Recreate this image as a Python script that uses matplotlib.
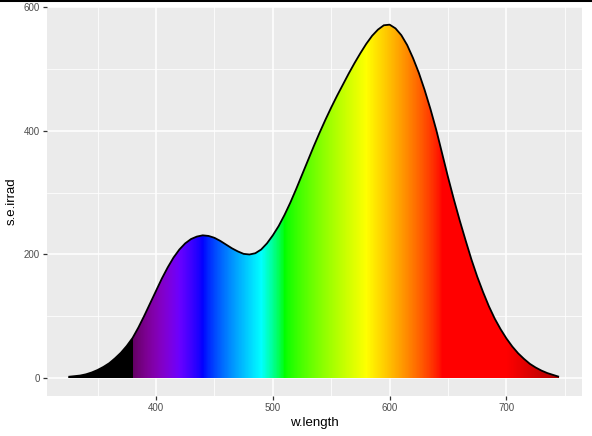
import numpy as np
import matplotlib
matplotlib.use("Agg")
import matplotlib.pyplot as plt
from matplotlib.lines import Line2D

# ---- data ----
w_length = [325, 330, 335, 340, 345, 350, 355, 360, 365, 370, 375, 380, 385, 390, 395,
            400, 405, 410, 415, 420, 425, 430, 435, 440, 445, 450, 455, 460, 465, 470,
            475, 480, 485, 490, 495, 500, 505, 510, 515, 520, 525, 530, 535, 540, 545,
            550, 555, 560, 565, 570, 575, 580, 585, 590, 595, 600, 605, 610, 615, 620,
            625, 630, 635, 640, 645, 650, 655, 660, 665, 670, 675, 680, 685, 690, 695,
            700, 705, 710, 715, 720, 725, 730, 735, 740, 745]
s_e_irrad = [2, 3, 4, 6, 9, 13, 18, 24, 32, 41, 52, 65, 82, 101, 121,
             141, 161, 179, 195, 208, 218, 225, 229, 231, 230, 227, 222, 216, 210, 205,
             201, 200, 202, 208, 218, 231, 246, 264, 284, 306, 329, 352, 375, 397, 418,
             438, 457, 475, 493, 510, 526, 541, 554, 564, 571, 572, 566, 555, 539, 518,
             494, 466, 435, 401, 363, 325, 289, 255, 223, 192, 164, 139, 116, 96, 79,
             64, 51, 40, 31, 23, 17, 12, 8, 5, 2]
x_ticks = [400, 500, 600, 700]
y_ticks = [0, 200, 400, 600]
x_minor = [350, 450, 550, 650, 750]
y_minor = [100, 300, 500]


def wl_to_rgb(w):
    """Approximate colour of a wavelength (Bruton's algorithm)."""
    r = g = b = 0.0
    if 380 <= w < 440:
        r, g, b = -(w - 440) / 60.0, 0.0, 1.0
    elif 440 <= w < 490:
        r, g, b = 0.0, (w - 440) / 50.0, 1.0
    elif 490 <= w < 510:
        r, g, b = 0.0, 1.0, -(w - 510) / 20.0
    elif 510 <= w < 580:
        r, g, b = (w - 510) / 70.0, 1.0, 0.0
    elif 580 <= w < 645:
        r, g, b = 1.0, -(w - 645) / 65.0, 0.0
    elif 645 <= w <= 780:
        r, g, b = 1.0, 0.0, 0.0
    if 380 <= w < 420:
        f = 0.3 + 0.7 * (w - 380) / 40.0
    elif 420 <= w <= 700:
        f = 1.0
    elif 700 < w <= 780:
        f = 0.3 + 0.7 * (780 - w) / 80.0
    else:
        f = 0.0
    return [(r * f) ** 0.8, (g * f) ** 0.8, (b * f) ** 0.8]


W, H = 592, 436
fig = plt.figure(figsize=(W / 100, H / 100), dpi=100)
left, right, top, bottom = 47, 581.7, 7, 395.7
ax = fig.add_axes([left / W, 1 - bottom / H, (right - left) / W, (bottom - top) / H])
ax.set_facecolor("#EBEBEB")
ymax = max(s_e_irrad)

for s in ax.spines.values():
    s.set_visible(False)

ax.set_xticks(x_ticks)
ax.set_yticks(y_ticks)
ax.set_xticks(x_minor, minor=True)
ax.set_yticks(y_minor, minor=True)
ax.grid(which="major", color="white", lw=1.1)
ax.grid(which="minor", color="white", lw=0.55)
ax.set_axisbelow(True)
ax.tick_params(which="major", length=2.6, width=0.9, color="#333333",
               labelcolor="#4D4D4D", labelsize=7, pad=2.5)
ax.tick_params(which="minor", length=0)
ax.set_xticklabels([str(t) for t in x_ticks], fontfamily="Liberation Sans")
ax.set_yticklabels([str(t) for t in y_ticks], fontfamily="Liberation Sans")

# gradient fill clipped to area under the curve
poly = ax.fill_between(w_length, 0, s_e_irrad, facecolor="none", edgecolor="none")
wl_grid = np.arange(300, 770, 0.5)
img = np.array([[wl_to_rgb(w) for w in wl_grid]])
im = ax.imshow(img, extent=[wl_grid[0], wl_grid[-1], 0, ymax * 1.02], aspect="auto",
               interpolation="nearest", zorder=2)
im.set_clip_path(poly.get_paths()[0], transform=ax.transData)
ax.plot(w_length, s_e_irrad, color="black", lw=1.3, zorder=3,
        solid_joinstyle="round", solid_capstyle="butt")
ax.set_xlim(306.7, 764.4)
ax.set_ylim(-0.05 * ymax, ymax * 1.05)

ax.set_xlabel("w.length", fontsize=9.5, fontfamily="Liberation Sans", labelpad=3)
ax.set_ylabel("s.e.irrad", fontsize=9.5, fontfamily="Liberation Sans", labelpad=4)

fig.add_artist(Line2D([0, 1], [1, 1], transform=fig.transFigure, color="black", lw=2.2))

fig.savefig("out.png", dpi=100)
